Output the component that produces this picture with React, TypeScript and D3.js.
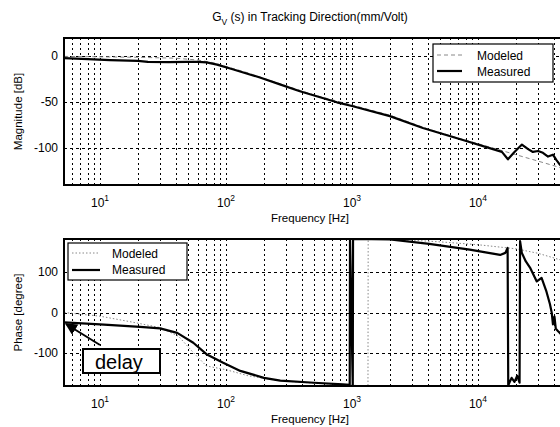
import React from 'react';
import * as d3 from 'd3';

// magnitude, measured [Hz, dB]
const magMeasuredFreq = [5.2, 8, 12, 20, 24, 35, 49, 60, 70, 85, 113, 186, 268, 386, 760, 1000, 2000, 3656, 7600, 13150, 15500, 17300, 19500, 22350, 25000, 27300, 30000, 32800, 36000, 39400, 42000, 44800, 50000];
const magMeasured = [-2, -3, -4, -5, -6, -6.3, -6, -6, -6.5, -9, -14, -23, -30.5, -38, -50, -54, -65, -78, -91, -101, -104, -112, -104, -96, -101, -104, -103, -105, -109, -107, -113, -118, -121];

// magnitude, modeled
const magModeledFreq = [5.2, 10, 20, 40, 60, 80, 100, 150, 200, 300, 500, 1000, 2000, 4000, 7000, 10000, 15000, 20000, 30000, 45000, 50000];
const magModeled = [0, -0.5, -1, -2, -4, -7, -11, -18, -24, -32, -42, -53, -64, -79, -89, -95, -102, -107, -114, -121, -123];

// phase, measured [Hz, degree]
const phaseMeasuredFreq = [5.2, 10, 20.8, 30, 41, 55, 70, 95, 130, 200, 270, 500, 846, 960, 965, 1015, 1020, 2000, 4100, 8600, 15000, 16500, 17200, 17400, 18500, 19500, 20500, 21400, 21600, 22300, 24000, 25900, 29300, 32000, 35000, 37300, 38500, 39400, 40500, 41500, 43300, 50000];
const phaseMeasured = [-24, -29, -35, -39, -50, -74, -102, -123, -143, -160, -167, -172, -176, -177, 180, -180, 180, 179, 168, 154, 141, 146, 158, -178, -160, -170, -155, -172, 175, 146, 125, 110, 76, 85, 51, 20, 0, -29, -10, -40, -46, -65];

// phase, modeled
const phaseModeledFreq = [5.2, 10, 17, 30, 42, 55, 70, 100, 150, 250, 400, 1000, 1340, 1345, 3000, 5000, 10000, 20000, 30000, 45000, 50000];
const phaseModeled = [0, -9, -22, -37, -58, -98, -131, -140, -155, -166, -171, -178, -180, 180, 177, 173, 166, 156, 145, 129, 124];

const majorFreqs = [10, 100, 1000, 10000];
const majorExp = ['1', '2', '3', '4'];
const magTicks = [0, -50, -100];
const phaseTicks = [100, 0, -100];

const FONT = '"Liberation Sans", Arial, Helvetica, sans-serif';

const left = 64;
const right = 566;

const x = d3.scaleLog().domain([5.18, 50000]).range([left, right]);
const yMag = d3.scaleLinear().domain([-140, 20]).range([185, 38]);
const yPhase = d3.scaleLinear().domain([-180, 180]).range([386, 239]);

const gridFreqs = x.ticks().filter(f => f > 5.18 && f < 50000);

type Pt = [number, number];
const zip = (a: number[], b: number[]): Pt[] => a.map((f, i) => [f, b[i]]);

const px = (v: number) => Math.round(v) + 0.5;

function Panel(props: {
  y: d3.ScaleLinear<number, number>;
  ticks: number[];
  id: string;
  measured: Pt[];
  modeled: Pt[];
  modeledDash: string;
  ylabel: string;
  tickLabelY: number;
  xlabelY: number;
}) {
  const { y, ticks, id, measured, modeled, modeledDash, ylabel, tickLabelY, xlabelY } = props;
  const [y0, y1] = y.range();
  const top = Math.min(y0, y1);
  const bottom = Math.max(y0, y1);
  const line = d3.line<Pt>().x(d => x(d[0])).y(d => y(d[1]));
  return (
    <g>
      <defs>
        <clipPath id={id}>
          <rect x={left} y={top} width={right - left} height={bottom - top} />
        </clipPath>
      </defs>
      <rect x={left} y={top} width={right - left} height={bottom - top} fill="#fff" />
      {gridFreqs.map(f => (
        <line key={'v' + f} x1={px(x(f))} x2={px(x(f))} y1={top} y2={bottom} stroke="#000" strokeWidth={1} strokeDasharray="2,3" shapeRendering="crispEdges" />
      ))}
      {ticks.map(t => (
        <line key={'h' + t} x1={left} x2={right} y1={px(y(t))} y2={px(y(t))} stroke="#000" strokeWidth={1} strokeDasharray="3,3" shapeRendering="crispEdges" />
      ))}
      <g clipPath={`url(#${id})`}>
        <path d={line(modeled) || ''} fill="none" stroke="#888" strokeWidth={1} strokeDasharray={modeledDash} />
        <path d={line(measured) || ''} fill="none" stroke="#000" strokeWidth={2.2} strokeLinejoin="round" />
      </g>
      <rect x={left} y={top} width={right - left + 10} height={bottom - top} fill="none" stroke="#000" strokeWidth={2} />
      {ticks.map(t => (
        <text key={'t' + t} x={58} y={y(t) + 4} textAnchor="end" fontFamily={FONT} fontSize={12}>{t}</text>
      ))}
      {majorFreqs.map((f, i) => (
        <text key={'x' + f} x={x(f) - 9} y={tickLabelY} fontFamily={FONT} fontSize={12}>
          10<tspan dy={-6} fontSize={8.5}>{majorExp[i]}</tspan>
        </text>
      ))}
      <text x={310} y={xlabelY} textAnchor="middle" fontFamily={FONT} fontSize={11.5}>Frequency [Hz]</text>
      <text transform={`translate(22,${(top + bottom) / 2}) rotate(-90)`} textAnchor="middle" fontFamily={FONT} fontSize={11.5}>{ylabel}</text>
    </g>
  );
}

export default function App() {
  return (
    <svg width={560} height={427} style={{ position: 'absolute', left: 0, top: 0, background: '#fff' }}>
      <rect width={560} height={427} fill="#fff" />
      <text x={310} y={21} textAnchor="middle" fontFamily={FONT} fontSize={12}>
        G<tspan dy={4} fontSize={8.5}>V</tspan><tspan dy={-4}> (s) in Tracking Direction(mm/Volt)</tspan>
      </text>
      <Panel y={yMag} ticks={magTicks} id="clipMag" measured={zip(magMeasuredFreq, magMeasured)} modeled={zip(magModeledFreq, magModeled)}
        modeledDash="4,3" ylabel="Magnitude [dB]" tickLabelY={207} xlabelY={222} />
      <Panel y={yPhase} ticks={phaseTicks} id="clipPhase" measured={zip(phaseMeasuredFreq, phaseMeasured)} modeled={zip(phaseModeledFreq, phaseModeled)}
        modeledDash="1.5,2" ylabel="Phase [degree]" tickLabelY={408} xlabelY={423} />

      {/* legend, magnitude */}
      <rect x={433} y={44} width={120} height={38} fill="#fff" stroke="#000" strokeWidth={1.2} />
      <line x1={437} x2={462} y1={55} y2={55} stroke="#888" strokeWidth={1} strokeDasharray="4,3" />
      <text x={477} y={60} fontFamily={FONT} fontSize={12}>Modeled</text>
      <line x1={437} x2={462} y1={71} y2={71} stroke="#000" strokeWidth={2.2} />
      <text x={477} y={76} fontFamily={FONT} fontSize={12}>Measured</text>

      {/* legend, phase */}
      <rect x={68} y={243} width={119} height={37} fill="#fff" stroke="#000" strokeWidth={1.2} />
      <line x1={72} x2={100} y1={253} y2={253} stroke="#888" strokeWidth={1} strokeDasharray="1.5,2" />
      <text x={112} y={258} fontFamily={FONT} fontSize={12}>Modeled</text>
      <line x1={72} x2={100} y1={270} y2={270} stroke="#000" strokeWidth={2.2} />
      <text x={112} y={274} fontFamily={FONT} fontSize={12}>Measured</text>

      {/* delay annotation */}
      <defs>
        <marker id="arrowHead" viewBox="0 0 10 10" refX={9} refY={5} markerWidth={6} markerHeight={6} orient="auto">
          <path d="M0,0 L10,5 L0,10 z" fill="#000" />
        </marker>
      </defs>
      <line x1={100} y1={345} x2={66} y2={324} stroke="#000" strokeWidth={2} markerEnd="url(#arrowHead)" />
      <rect x={83} y={349} width={77} height={24} fill="#fff" stroke="#000" strokeWidth={2} />
      <text x={95} y={369} fontFamily={FONT} fontSize={20}>delay</text>
    </svg>
  );
}
